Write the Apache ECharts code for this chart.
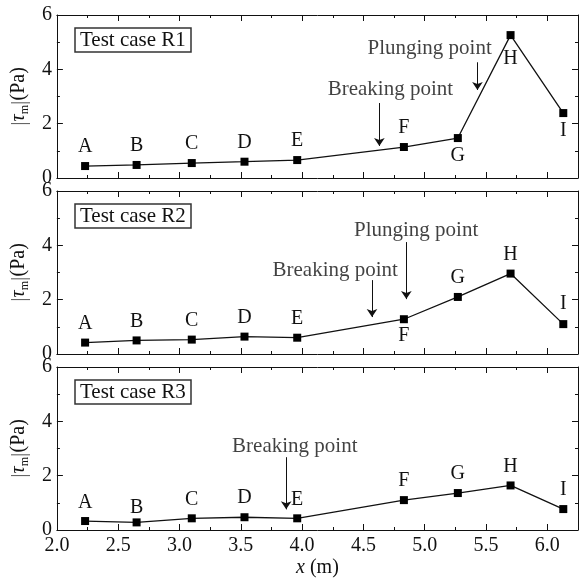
<!DOCTYPE html>
<html>
<head>
<meta charset="utf-8">
<script src="https://cdn.jsdelivr.net/npm/echarts@6/dist/echarts.min.js"></script>
<style>
html,body{margin:0;padding:0;background:#fff;}
#c{width:579px;height:583px;}
</style>
</head>
<body>
<div id="c"></div>
<script>
// ---- data ----
const xPos = [2.23, 2.65, 3.10, 3.53, 3.96, 4.83, 5.27, 5.70, 6.13];
const pointNames = ['A', 'B', 'C', 'D', 'E', 'F', 'G', 'H', 'I'];
const tauR1 = [0.44, 0.48, 0.55, 0.60, 0.66, 1.14, 1.47, 5.26, 2.39];
const tauR2 = [0.42, 0.50, 0.53, 0.64, 0.60, 1.28, 2.10, 2.96, 1.10];
const tauR3 = [0.33, 0.28, 0.43, 0.47, 0.43, 1.10, 1.36, 1.64, 0.77];
const caseNames = ['Test case R1', 'Test case R2', 'Test case R3'];
const xTicks = [2.0, 2.5, 3.0, 3.5, 4.0, 4.5, 5.0, 5.5, 6.0];
const yTicks = [0, 2, 4, 6];
// annotation text [x, y, text] and arrows [x, yStart, yEnd]
const notesR1 = [[4.72, 3.27, 'Breaking point'], [5.04, 4.78, 'Plunging point']];
const arrowsR1 = [[4.63, 2.76, 1.18], [5.43, 4.26, 3.24]];
const notesR2 = [[4.27, 3.09, 'Breaking point'], [4.93, 4.56, 'Plunging point']];
const arrowsR2 = [[4.57, 2.72, 1.36], [4.85, 4.12, 2.02]];
const notesR3 = [[3.94, 3.09, 'Breaking point']];
const arrowsR3 = [[3.87, 2.68, 0.76]];

// ---- layout / style config ----
const FONT = 'Liberation Serif';
const INK = '#111';
const panels = [
  {top: 15, vals: tauR1, notes: notesR1, arrows: arrowsR1,
   side: ['top','top','top','top','top','top','bottom','bottom','bottom'],
   dist: [5,5,5,5,5,5,4,10,4]},
  {top: 191, vals: tauR2, notes: notesR2, arrows: arrowsR2,
   side: ['top','top','top','top','top','bottom','top','top','top'],
   dist: [5,5,5,5,5,3,5,5,6]},
  {top: 367, vals: tauR3, notes: notesR3, arrows: arrowsR3,
   side: ['top','top','top','top','top','top','top','top','top'],
   dist: [4,1,5,5,5,5,5,5,5]}
];
const GL = 54, GW = 524, GH = 163;
const XMIN = 2.0, XMAX = 6.25;

const grid = [], xAxis = [], yAxis = [], series = [], title = [];

panels.forEach((p, i) => {
  grid.push({left: GL, width: GW, top: p.top, height: GH});
  const lineStyle = {color: INK, width: 1};
  const base = {type: 'value', gridIndex: i, min: XMIN, max: XMAX, splitLine: {show: false}};
  // bottom major
  xAxis.push(Object.assign({}, base, {
    position: 'bottom', interval: 0.5,
    axisLine: {show: true, onZero: false, lineStyle},
    axisTick: {show: true, inside: true, length: 6, lineStyle},
    axisLabel: {show: i === 2, showMaxLabel: false, margin: 6, color: INK,
      fontFamily: FONT, fontSize: 20,
      formatter: v => (xTicks.some(t => Math.abs(t - v) < 1e-6) ? v.toFixed(1) : '')},
    name: i === 2 ? '{i|x} (m)' : '',
    nameLocation: 'middle', nameGap: 28,
    nameTextStyle: {color: INK, fontFamily: FONT, fontSize: 20,
      rich: {i: {fontStyle: 'italic', fontFamily: FONT, fontSize: 20, color: INK}}}
  }));
  // bottom minor
  xAxis.push(Object.assign({}, base, {
    position: 'bottom', interval: 0.25,
    axisLine: {show: false, onZero: false},
    axisTick: {show: true, inside: true, length: 3, lineStyle},
    axisLabel: {show: false}
  }));
  // top major
  xAxis.push(Object.assign({}, base, {
    position: 'top', interval: 0.5,
    axisLine: {show: true, onZero: false, lineStyle},
    axisTick: {show: true, inside: true, length: 6, lineStyle},
    axisLabel: {show: false}
  }));
  // top minor
  xAxis.push(Object.assign({}, base, {
    position: 'top', interval: 0.25,
    axisLine: {show: false, onZero: false},
    axisTick: {show: true, inside: true, length: 3, lineStyle},
    axisLabel: {show: false}
  }));
  const ybase = {type: 'value', gridIndex: i, min: 0, max: 6, interval: 2, splitLine: {show: false},
    minorTick: {show: true, splitNumber: 2, length: 3, lineStyle},
    axisTick: {show: true, inside: true, length: 6, lineStyle},
    axisLine: {show: true, onZero: false, lineStyle}};
  yAxis.push(Object.assign({}, ybase, {
    position: 'left',
    axisLabel: {show: true, margin: 5, color: INK, fontFamily: FONT, fontSize: 20,
      formatter: v => (yTicks.indexOf(v) >= 0 ? String(v) : '')},
    name: '{b||}{t|τ}{s|m}{b||}{n|(Pa)}',
    nameLocation: 'middle', nameRotate: 90, nameGap: 24,
    nameTextStyle: {color: INK, fontFamily: FONT, fontSize: 20,
      rich: {
        b: {fontFamily: FONT, fontSize: 22, color: '#666', lineHeight: 24, verticalAlign: 'middle'},
        t: {fontFamily: FONT, fontSize: 20, fontStyle: 'italic', color: INK, lineHeight: 24, verticalAlign: 'middle'},
        s: {fontFamily: FONT, fontSize: 12, color: INK, lineHeight: 24, verticalAlign: 'bottom'},
        n: {fontFamily: FONT, fontSize: 20, color: INK, lineHeight: 24, verticalAlign: 'middle'}
      }}
  }));
  yAxis.push(Object.assign({}, ybase, {
    position: 'right', axisLabel: {show: false}
  }));

  const xi = i * 4, yi = i * 2;
  series.push({
    type: 'line', xAxisIndex: xi, yAxisIndex: yi,
    symbol: 'rect', symbolSize: 8, showAllSymbol: true,
    itemStyle: {color: '#000'},
    lineStyle: {color: INK, width: 1.3},
    label: {show: true, formatter: '{b}', color: INK, fontFamily: FONT, fontSize: 20},
    data: xPos.map((x, k) => ({
      value: [x, p.vals[k]], name: pointNames[k],
      label: {position: p.side[k], distance: p.dist[k]}
    })),
    markLine: {
      silent: true, animation: false,
      symbol: ['none', 'arrow'], symbolSize: 8,
      label: {show: false},
      lineStyle: {color: INK, width: 1, type: 'solid'},
      emphasis: {disabled: true},
      data: p.arrows.map(a => [{coord: [a[0], a[1]]}, {coord: [a[0], a[2]]}])
    },
    animation: false, z: 3
  });
  series.push({
    type: 'scatter', xAxisIndex: xi, yAxisIndex: yi,
    symbolSize: 0, silent: true,
    label: {show: true, position: 'inside', formatter: '{b}', color: INK,
      fontFamily: FONT, fontSize: 21},
    data: p.notes.map(n => ({value: [n[0], n[1]], name: n[2]})),
    animation: false
  });
  title.push({
    text: caseNames[i], left: 75, top: p.top + 13,
    padding: [1, 5, 1, 5],
    borderColor: '#333', borderWidth: 1.5,
    textStyle: {fontFamily: FONT, fontSize: 21, fontWeight: 'normal', color: INK, lineHeight: 22}
  });
});

const chart = echarts.init(document.getElementById('c'), null, {renderer: 'canvas'});
chart.setOption({
  backgroundColor: '#fff',
  animation: false,
  title, grid, xAxis, yAxis, series
});
</script>
</body>
</html>
